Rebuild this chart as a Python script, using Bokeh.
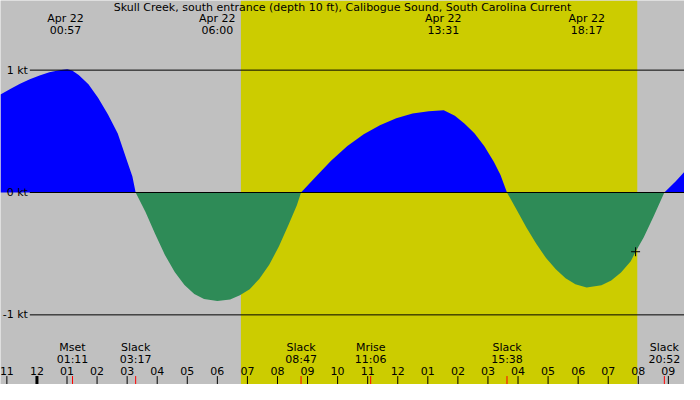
from bokeh.plotting import figure
from bokeh.models import Range1d
from bokeh.core.properties import value
from bokeh.embed import file_html
from bokeh.resources import INLINE
import numpy as np

# ---------------- data ----------------
title = "Skull Creek, south entrance (depth 10 ft), Calibogue Sound, South Carolina Current"

# hours after midnight Apr 22 and current speed in knots
hours = [-1.212, -0.887, -0.562, -0.237, 0.088, 0.413, 0.738, 1.007, 1.170, 1.388,
         1.713, 2.038, 2.363, 2.688, 3.012, 3.175, 3.283,
         3.607, 3.932, 4.257, 4.582, 4.907, 5.232, 5.557, 6.000, 6.425, 6.750,
         7.075, 7.400, 7.725, 8.050, 8.375, 8.645, 8.783,
         9.243, 9.782, 10.325, 10.868, 11.407, 11.950, 12.493, 13.032, 13.530,
         13.900, 14.225, 14.550, 14.875, 15.200, 15.418, 15.633,
         15.958, 16.283, 16.607, 16.932, 17.257, 17.582, 17.907, 18.283, 18.775,
         19.100, 19.425, 19.750, 19.910, 20.183, 20.508, 20.867, 21.247, 21.537]
knots = [0.800, 0.846, 0.888, 0.925, 0.956, 0.982, 1.000, 1.008, 0.997, 0.961,
         0.885, 0.773, 0.638, 0.482, 0.247, 0.130, 0.0,
         -0.157, -0.340, -0.510, -0.650, -0.755, -0.830, -0.870, -0.886, -0.875, -0.840,
         -0.790, -0.705, -0.590, -0.440, -0.260, -0.104, 0.0,
         0.120, 0.260, 0.380, 0.476, 0.550, 0.606, 0.646, 0.664, 0.672,
         0.627, 0.562, 0.484, 0.380, 0.250, 0.144, 0.0,
         -0.144, -0.288, -0.418, -0.536, -0.627, -0.700, -0.750, -0.776, -0.758,
         -0.719, -0.653, -0.562, -0.484, -0.366, -0.196, 0.0, 0.092, 0.170]

top_dates = ["Apr 22", "Apr 22", "Apr 22", "Apr 22"]
top_times = ["00:57", "06:00", "13:31", "18:17"]

event_names = ["Mset", "Slack", "Slack", "Mrise", "Slack", "Slack"]
event_times = ["01:11", "03:17", "08:47", "11:06", "15:38", "20:52"]

hour_positions = list(range(-1, 22))
hour_labels = ["11", "12", "01", "02", "03", "04", "05", "06", "07", "08", "09", "10",
               "11", "12", "01", "02", "03", "04", "05", "06", "07", "08", "09"]

level_values = [1, 0, -1]
level_labels = ["1 kt", "0 kt", "-1 kt"]

sunrise = "06:47"
sunset = "19:58"

now_hour = 19.91
now_knots = -0.484

# ---------------- helpers ----------------
def to_h(s):
    h, m = s.split(":")
    return int(h) + int(m) / 60.0

X0, X1 = -1.212, 21.537
Y0, Y1 = -1.569, 1.569
FONT = value("DejaVu Sans")
FS = "11px"

p = figure(width=684, height=384, x_range=Range1d(X0, X1), y_range=Range1d(Y0, Y1),
           output_backend="svg", toolbar_location=None, min_border=0)
p.axis.visible = False
p.grid.visible = False
p.outline_line_color = None
p.background_fill_color = "#c0c0c0"
p.border_fill_color = "#c0c0c0"

# daylight band
p.quad(left=[to_h(sunrise)], right=[to_h(sunset)], bottom=[Y0], top=[Y1],
       fill_color="#cccc00", line_color=None)

# current fill
k = np.array(knots)
p.varea(x=hours, y1=np.zeros(len(k)), y2=np.maximum(k, 0), fill_color="#0000ff")
p.varea(x=hours, y1=np.minimum(k, 0), y2=np.zeros(len(k)), fill_color="#2e8b57")

# level lines and labels
p.segment(x0=[-0.237] * 3, x1=[X1] * 3, y0=level_values, y1=level_values,
          line_color="black", line_width=1)
p.text(x=[-0.30] * 3, y=level_values, text=level_labels, text_font=FONT,
       text_font_size=FS, text_align="right", text_baseline="middle", text_color="black")

# title
p.text(x=[(X0 + X1) / 2], y=[1.514], text=[title], text_font=FONT, text_font_size=FS,
       text_align="center", text_baseline="middle", text_color="black")

# top extrema labels
top_h = [to_h(t) for t in top_times]
p.text(x=top_h, y=[1.42] * 4, text=top_dates, text_font=FONT, text_font_size=FS,
       text_align="center", text_baseline="middle", text_color="black")
p.text(x=top_h, y=[1.325] * 4, text=top_times, text_font=FONT, text_font_size=FS,
       text_align="center", text_baseline="middle", text_color="black")

# bottom event labels
ev_h = [to_h(t) for t in event_times]
p.text(x=ev_h, y=[-1.27] * len(ev_h), text=event_names, text_font=FONT, text_font_size=FS,
       text_align="center", text_baseline="middle", text_color="black")
p.text(x=ev_h, y=[-1.365] * len(ev_h), text=event_times, text_font=FONT, text_font_size=FS,
       text_align="center", text_baseline="middle", text_color="black")

# hour labels and ticks
p.text(x=hour_positions, y=[-1.459] * len(hour_positions), text=hour_labels, text_font=FONT,
       text_font_size=FS, text_align="center", text_baseline="middle", text_color="black")
other = [h for h in hour_positions if h != 0]
p.segment(x0=other, x1=other, y0=[Y0] * len(other), y1=[-1.50] * len(other),
          line_color="black", line_width=1)
p.segment(x0=[0], x1=[0], y0=[Y0], y1=[-1.50], line_color="black", line_width=3)
p.segment(x0=ev_h, x1=ev_h, y0=[Y0] * len(ev_h), y1=[-1.50] * len(ev_h),
          line_color="red", line_width=1)

# current-time marker
p.scatter(x=[now_hour], y=[now_knots], marker="cross", size=9, line_color="black", line_width=1)

open("out.html", "w").write(file_html(p, INLINE))
